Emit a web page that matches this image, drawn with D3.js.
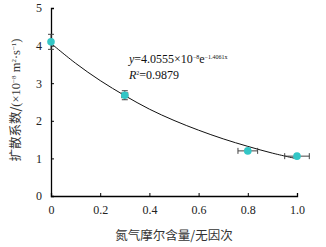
<!DOCTYPE html>
<html>
<head>
<meta charset="utf-8">
<script src="https://cdn.jsdelivr.net/npm/d3@7"></script>
<style>
  body { margin: 0; background: #fff; }
  text { font-family: "Liberation Serif", "Times New Roman", serif; }
</style>
</head>
<body>
<div id="chart"></div>
<script>
// donnees
const molFraction = [0, 0.3, 0.8, 1.0];
const diffCoef = [4.1, 2.68, 1.2, 1.06];
const xErr = [0, 0.012, 0.04, 0.05];
const yErr = [0.2, 0.12, 0.04, 0.04];

// courbe de tendance
const fitX = [0, 0.1, 0.2, 0.3, 0.4, 0.5, 0.6, 0.7, 0.8, 0.9, 1.0];
const fitY = [4.06, 3.53, 3.07, 2.67, 2.31, 2.01, 1.75, 1.52, 1.32, 1.14, 0.99];

const xTicks = [0, 0.2, 0.4, 0.6, 0.8, 1.0];
const xTickLabels = ["0", "0.2", "0.4", "0.6", "0.8", "1.0"];
const yTicks = [0, 1, 2, 3, 4, 5];

const width = 326, height = 247;
const margin = { top: 8, right: 29, bottom: 51, left: 51 };

const svg = d3.select("#chart").append("svg")
    .attr("width", width)
    .attr("height", height);

const x = d3.scaleLinear().domain([0, 1]).range([margin.left, width - margin.right]);
const y = d3.scaleLinear().domain([0, 5]).range([height - margin.bottom, margin.top]);

// axes
svg.append("g")
    .attr("transform", `translate(0,${y(0)})`)
    .call(d3.axisBottom(x).tickValues(xTicks).tickSize(-3).tickPadding(9)
        .tickFormat((d, i) => xTickLabels[i]))
    .call(g => g.select(".domain").attr("stroke", "#000").attr("stroke-width", 1.3))
    .call(g => g.selectAll("text").style("font-size", "12px").style("fill", "#222")
        .style("font-family", "Liberation Serif"));

svg.append("g")
    .attr("transform", `translate(${x(0)},0)`)
    .call(d3.axisLeft(y).tickValues(yTicks).tickSize(-3).tickPadding(9).tickFormat(d3.format("d")))
    .call(g => g.select(".domain").attr("stroke", "#000").attr("stroke-width", 1.3))
    .call(g => g.selectAll("text").style("font-size", "12px").style("fill", "#222")
        .style("font-family", "Liberation Serif"));

// courbe
const line = d3.line()
    .x((d, i) => x(fitX[i]))
    .y(d => y(d))
    .curve(d3.curveCatmullRom);

svg.append("path")
    .datum(fitY)
    .attr("d", line)
    .attr("fill", "none")
    .attr("stroke", "#111")
    .attr("stroke-width", 1);

// barres d'erreur
const pts = molFraction.map((d, i) => ({ x: d, y: diffCoef[i], ex: xErr[i], ey: yErr[i] }));
const eb = svg.append("g").attr("stroke", "#444").attr("stroke-width", 1);
pts.forEach(p => {
    if (p.ey > 0) {
        eb.append("line").attr("x1", x(p.x)).attr("x2", x(p.x)).attr("y1", y(p.y - p.ey)).attr("y2", y(p.y + p.ey));
        [p.y - p.ey, p.y + p.ey].forEach(v => eb.append("line")
            .attr("x1", x(p.x) - 3).attr("x2", x(p.x) + 3).attr("y1", y(v)).attr("y2", y(v)));
    }
    if (p.ex > 0) {
        eb.append("line").attr("x1", x(p.x - p.ex)).attr("x2", x(p.x + p.ex)).attr("y1", y(p.y)).attr("y2", y(p.y));
        [p.x - p.ex, p.x + p.ex].forEach(v => eb.append("line")
            .attr("x1", x(v)).attr("x2", x(v)).attr("y1", y(p.y) - 3).attr("y2", y(p.y) + 3));
    }
});

svg.selectAll("circle.pt")
    .data(pts)
    .join("circle")
    .attr("class", "pt")
    .attr("cx", d => x(d.x))
    .attr("cy", d => y(d.y))
    .attr("r", 3.8)
    .attr("fill", "#33c6c6");

// equation
const eq = svg.append("text").attr("x", 129).attr("y", 63).style("font-size", "12px").style("fill", "#111");
eq.append("tspan").style("font-style", "italic").text("y");
eq.append("tspan").text("=4.0555×10");
eq.append("tspan").attr("dy", -4).style("font-size", "6px").text("−8");
eq.append("tspan").attr("dy", 4).text("e");
eq.append("tspan").attr("dy", -4).style("font-size", "6px").text("−1.4061x");

const r2 = svg.append("text").attr("x", 129).attr("y", 79).style("font-size", "12px").style("fill", "#111");
r2.append("tspan").style("font-style", "italic").text("R");
r2.append("tspan").attr("dy", -4).style("font-size", "6px").text("2");
r2.append("tspan").attr("dy", 4).text("=0.9879");

// titres des axes
svg.append("text")
    .attr("x", 174)
    .attr("y", 240)
    .attr("text-anchor", "middle")
    .style("font-family", "'Noto Sans CJK SC'")
    .style("font-size", "12.5px")
    .style("fill", "#333")
    .text("氮气摩尔含量/无因次");

const yl = svg.append("text")
    .attr("transform", "translate(20,100) rotate(-90)")
    .attr("text-anchor", "middle")
    .style("font-size", "12.5px")
    .style("fill", "#333");
yl.append("tspan").style("font-family", "'Noto Sans CJK SC'").text("扩散系数/");
yl.append("tspan").text("(×10");
yl.append("tspan").attr("dy", -4).style("font-size", "7px").text("−8");
yl.append("tspan").attr("dy", 4).text(" m");
yl.append("tspan").attr("dy", -4).style("font-size", "7px").text("2");
yl.append("tspan").attr("dy", 4).text("·s");
yl.append("tspan").attr("dy", -4).style("font-size", "7px").text("−1");
yl.append("tspan").attr("dy", 4).text(")");
</script>
</body>
</html>
